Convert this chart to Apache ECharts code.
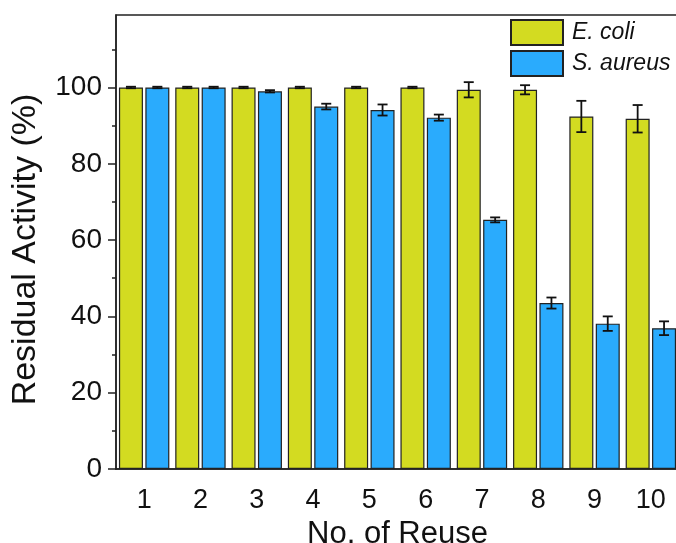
<!DOCTYPE html>
<html>
<head>
<meta charset="utf-8">
<script src="https://cdn.jsdelivr.net/npm/echarts@6/dist/echarts.min.js"></script>
<style>html,body{margin:0;padding:0;background:#fff;}#c{width:676px;height:543px;}</style>
</head>
<body>
<div id="c"></div>
<script>
var categories = ['1','2','3','4','5','6','7','8','9','10'];
var ecoliValues = [100,100,100,100,100,100,99.4,99.4,92.4,91.8];
var ecoliErrors = [0.2,0.2,0.2,0.2,0.2,0.2,2.0,1.2,4.1,3.6];
var aureusValues = [100,100,99.0,95.0,94.1,92.1,65.3,43.5,38.1,36.9];
var aureusErrors = [0.2,0.2,0.3,0.75,1.45,0.8,0.65,1.45,1.9,1.8];
var yTicks = [0,20,40,60,80,100];

var FONT = 'Liberation Sans, Arial, sans-serif';
var BAR_W = 24, BAR_GAP = 2.4;

function errData(vals, errs){
  return vals.map(function(v,i){ return [i, v, errs[i]]; });
}
function errRender(offset){
  return function(params, api){
    var x = api.value(0), v = api.value(1), e = api.value(2);
    var top = api.coord([x, v + e]);
    var bot = api.coord([x, v - e]);
    var cx = top[0] + offset;
    var style = {stroke:'#111', lineWidth:1.8};
    return {type:'group', children:[
      {type:'line', shape:{x1:cx,y1:top[1],x2:cx,y2:bot[1]}, style:style},
      {type:'line', shape:{x1:cx-5,y1:top[1],x2:cx+5,y2:top[1]}, style:style},
      {type:'line', shape:{x1:cx-5,y1:bot[1],x2:cx+5,y2:bot[1]}, style:style}
    ]};
  };
}

var chart = echarts.init(document.getElementById('c'), null, {renderer:'canvas'});
chart.setOption({
  animation:false,
  backgroundColor:'#fff',
  grid:{left:116, right:-3, top:15, bottom:74, outerBoundsMode:'none', containLabel:false,
    show:true, borderColor:'#222', borderWidth:1.5, backgroundColor:'#fff'},
  legend:{
    orient:'vertical', left:510, top:19, padding:0,
    itemWidth:52, itemHeight:25, itemGap:4, icon:'rect',
    data:['E. coli','S. aureus'],
    textStyle:{fontFamily:FONT, fontSize:23, fontStyle:'italic', color:'#111', padding:[0,0,0,4]}
  },
  xAxis:[{
    type:'category', data:categories, boundaryGap:true,
    name:'No. of Reuse', nameLocation:'middle', nameGap:39,
    nameTextStyle:{fontFamily:FONT, fontSize:31, color:'#111'},
    axisLine:{lineStyle:{color:'#222', width:1.5}},
    axisTick:{alignWithLabel:true, length:8, lineStyle:{color:'#222', width:1.5}},
    axisLabel:{fontFamily:FONT, fontSize:27, color:'#111', margin:18},
    splitLine:{show:false}
  },{
    type:'category', data:categories, boundaryGap:true, position:'bottom',
    axisLine:{show:false},
    axisTick:{alignWithLabel:false, length:4, lineStyle:{color:'#222', width:1.5}},
    axisLabel:{show:false},
    splitLine:{show:false}
  }],
  yAxis:{
    type:'value', min:0, max:119, interval:20,
    name:'Residual Activity (%)', nameLocation:'middle', nameGap:73,
    nameTextStyle:{fontFamily:FONT, fontSize:34, color:'#111', padding:[0,15,0,0]},
    axisLine:{show:true, lineStyle:{color:'#222', width:1.5}},
    axisTick:{show:true, length:8, customValues:yTicks, lineStyle:{color:'#222', width:1.5}},
    minorTick:{show:true, splitNumber:2, length:4, lineStyle:{color:'#222', width:1.5}},
    axisLabel:{fontFamily:FONT, fontSize:28, color:'#111', margin:14, customValues:yTicks},
    splitLine:{show:false}
  },
  series:[{
    name:'E. coli', type:'bar', data:ecoliValues, barWidth:BAR_W, barGap:'10%',
    itemStyle:{color:'#d3db21', borderColor:'#222', borderWidth:1.2}
  },{
    name:'S. aureus', type:'bar', data:aureusValues, barWidth:BAR_W, barGap:'10%',
    itemStyle:{color:'#2aabfd', borderColor:'#222', borderWidth:1.2}
  },{
    type:'custom', z:5, data:errData(ecoliValues, ecoliErrors),
    renderItem:errRender(-(BAR_W+BAR_GAP)/2), silent:true
  },{
    type:'custom', z:5, data:errData(aureusValues, aureusErrors),
    renderItem:errRender((BAR_W+BAR_GAP)/2), silent:true
  }]
});
</script>
</body>
</html>
